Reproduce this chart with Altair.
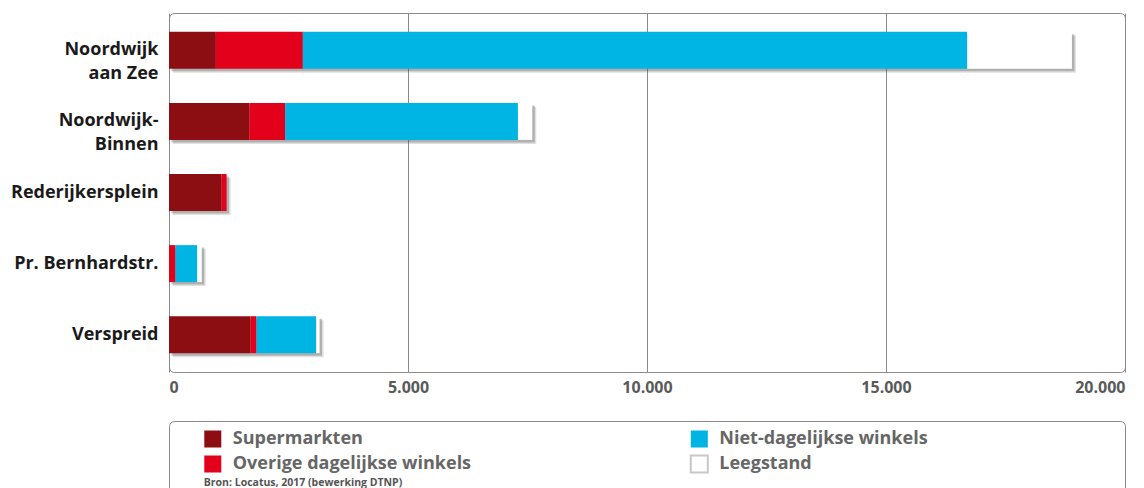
import altair as alt
import pandas as pd

# ---- data ----
locations = ["Noordwijk\naan Zee", "Noordwijk-\nBinnen", "Rederijkersplein",
             "Pr. Bernhardstr.", "Verspreid"]
categories = ["Supermarkten", "Overige dagelijkse winkels",
              "Niet-dagelijkse winkels", "Leegstand"]
colors = ["#8c0e13", "#e2001a", "#00b4e4", "#ffffff"]
supermarkten = [980, 1680, 1100, 0, 1705]
overige = [1820, 750, 105, 135, 125]
niet_dagelijks = [13900, 4870, 0, 455, 1250]
leegstand = [2190, 300, 0, 95, 70]
x_ticks = [0, 5000, 10000, 15000, 20000]
legend_cols = [0, 0, 1, 1]
legend_rows = [0, 1, 0, 1]
source_text = "Bron: Locatus, 2017 (bewerking DTNP)"

FONT = "Open Sans"

series = [supermarkten, overige, niet_dagelijks, leegstand]
rows = []
for i, loc in enumerate(locations):
    for j, cat in enumerate(categories):
        rows.append({"loc": loc, "cat": cat, "order": j, "value": series[j][i]})
df = pd.DataFrame(rows)
totals = pd.DataFrame({"loc": locations,
                       "total": [sum(v) for v in zip(*series)]})

color_scale = alt.Scale(domain=categories, range=colors)
x_scale = alt.Scale(domain=[0, 20000], nice=False)

x_axis = alt.Axis(values=x_ticks, title=None, grid=True, gridColor="#8a8a8a",
                  gridWidth=1, domain=False, ticks=False, labelFlush=True,
                  labelExpr="replace(format(datum.value, ','), ',', '.')",
                  labelFont=FONT, labelFontSize=16, labelFontWeight="bold",
                  labelColor="#5a5a5a", labelPadding=7)
y_axis = alt.Axis(title=None, domain=False, ticks=False, grid=False,
                  labelExpr="split(datum.label, '\\n')",
                  labelFont=FONT, labelFontSize=18, labelFontWeight="bold",
                  labelColor="#1a1a1a", labelLineHeight=24, labelPadding=11,
                  labelLimit=300)
y_enc = alt.Y("loc:N", sort=locations,
              scale=alt.Scale(paddingInner=0.48, paddingOuter=0.265),
              axis=y_axis)

shadow_far = alt.Chart(totals).mark_bar(color="#555555", opacity=0.18,
                                        xOffset=4, yOffset=4).encode(
    x=alt.X("total:Q", scale=x_scale, axis=x_axis),
    y=y_enc,
)
shadow = alt.Chart(totals).mark_bar(color="#555555", opacity=0.35,
                                    xOffset=2.5, yOffset=2.5).encode(
    x=alt.X("total:Q", scale=x_scale, axis=x_axis),
    y=y_enc,
)
bars = alt.Chart(df).mark_bar().encode(
    x=alt.X("value:Q", stack="zero", scale=x_scale, axis=x_axis),
    y=y_enc,
    color=alt.Color("cat:N", scale=color_scale, legend=None),
    order=alt.Order("order:Q"),
)
main = alt.layer(shadow_far, shadow, bars).properties(width=956, height=359)

# ---- legend panel ----
leg_df = pd.DataFrame({"cat": categories, "col": legend_cols, "row": legend_rows})
src_df = pd.DataFrame({"text": [source_text], "col": [0], "row": [2]})
lx = alt.X("col:Q", scale=alt.Scale(domain=[-0.09, 1.875], nice=False, zero=False), axis=None)
ly = alt.Y("row:Q", scale=alt.Scale(domain=[-0.72, 2.48], nice=False, zero=False,
                                     reverse=True), axis=None)
sym = alt.Chart(leg_df).mark_square(size=289, opacity=1, filled=True).encode(
    x=lx, y=ly,
    color=alt.Color("cat:N", scale=color_scale, legend=None),
    stroke=alt.condition("datum.cat == 'Leegstand'", alt.value("#c8c8c8"),
                         alt.value("transparent")),
)
txt = alt.Chart(leg_df).mark_text(align="left", baseline="middle", dx=20,
                                  font=FONT, fontSize=18, fontWeight="bold",
                                  color="#666666").encode(x=lx, y=ly, text="cat:N")
src = alt.Chart(src_df).mark_text(align="left", baseline="middle", dx=-9, dy=-6,
                                  font=FONT, fontSize=10.5, fontWeight="bold",
                                  color="#555555").encode(x=lx, y=ly, text="text:N")
legend_panel = alt.layer(sym, txt, src).properties(width=956, height=80)

chart = alt.vconcat(main, legend_panel, spacing=24).properties(
    padding={"top": 4, "left": 2, "right": 5, "bottom": 5},
    background="white",
).configure_view(stroke="#8a8a8a", strokeWidth=1, cornerRadius=5)

chart.save("out.html", embed_options={"renderer": "svg", "actions": False})
